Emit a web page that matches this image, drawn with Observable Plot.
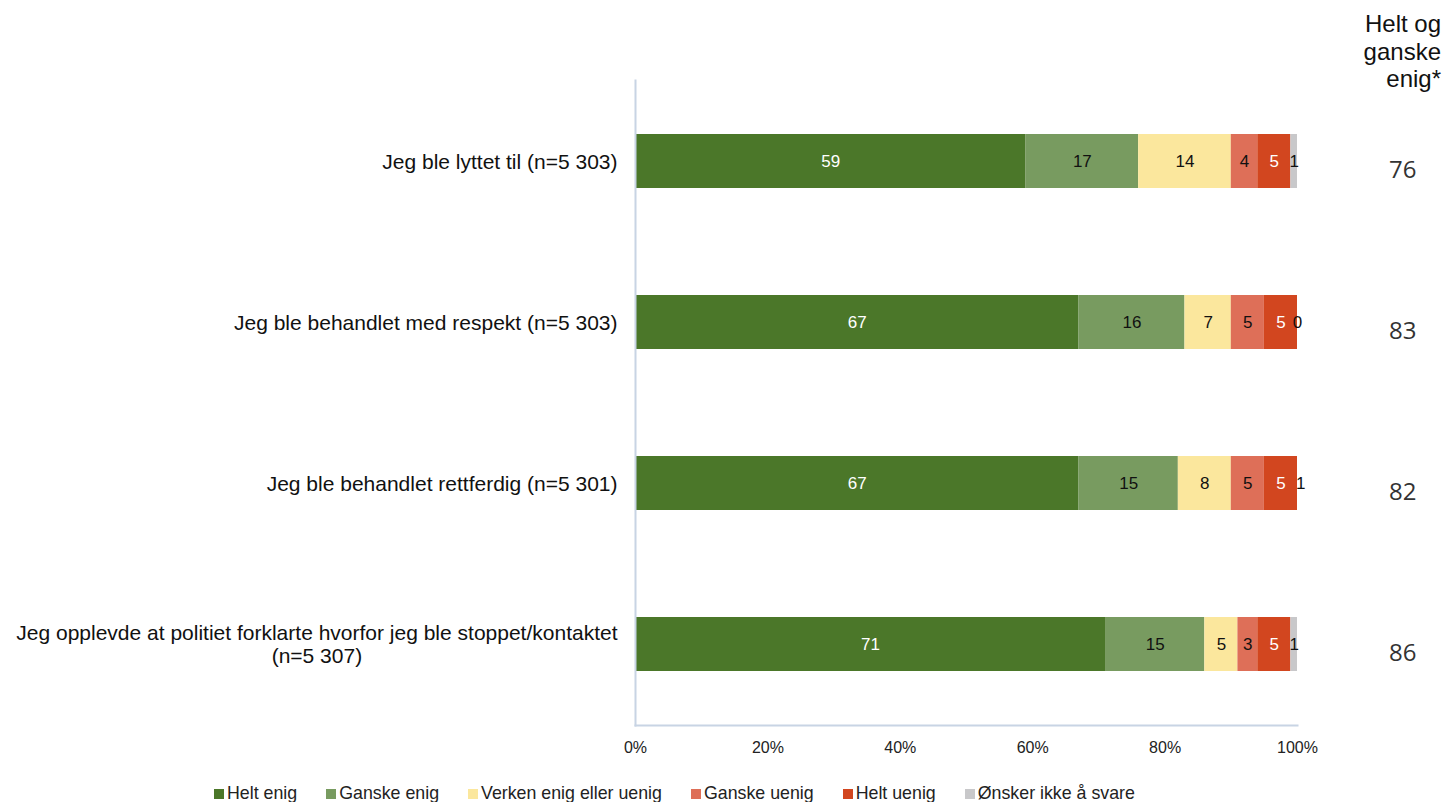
<!DOCTYPE html>
<html>
<head>
<meta charset="utf-8">
<script src="https://cdn.jsdelivr.net/npm/d3@7"></script>
<script src="https://cdn.jsdelivr.net/npm/@observablehq/plot@0.6"></script>
<style>
  html, body { margin: 0; padding: 0; background: #fff; }
  body { width: 1445px; height: 802px; position: relative; overflow: hidden; font-family: Arial, "Liberation Sans", sans-serif; }
  #chart { position: absolute; left: 0; top: 0; }
  #header { position: absolute; right: 4px; top: 10px; text-align: right; font-size: 24px; line-height: 27.5px; color: #111; }
  #legend { position: absolute; left: 214px; top: 783px; display: flex; font-size: 17.8px; color: #222; white-space: nowrap; }
  #legend .item { display: flex; align-items: center; margin-right: 29px; }
  #legend .sw { width: 10px; height: 10px; margin-right: 3px; display: inline-block; }
</style>
</head>
<body>
<div id="chart"></div>
<div id="header">Helt og<br>ganske<br>enig*</div>
<div id="legend"></div>
<script>
// ---- data ----
const categories = [
  "Jeg ble lyttet til (n=5 303)",
  "Jeg ble behandlet med respekt (n=5 303)",
  "Jeg ble behandlet rettferdig (n=5 301)",
  "Jeg opplevde at politiet forklarte hvorfor jeg ble stoppet/kontaktet\n(n=5 307)"
];
const series = ["Helt enig", "Ganske enig", "Verken enig eller uenig", "Ganske uenig", "Helt uenig", "Ønsker ikke å svare"];
const colors = ["#4b7729", "#789b60", "#fbe79d", "#de6f58", "#d2461f", "#c8c8ca"];
const labelColors = ["#ffffff", "#111111", "#111111", "#111111", "#ffffff", "#111111"];
const helEnig = [59, 67, 67, 71];
const ganskeEnig = [17, 16, 15, 15];
const verken = [14, 7, 8, 5];
const ganskeUenig = [4, 5, 5, 3];
const heltUenig = [5, 5, 5, 5];
const onskerIkke = [1, 0, 1, 1];
const totalEnig = [76, 83, 82, 86];
const xTicks = [0, 20, 40, 60, 80, 100];

const seriesValues = [helEnig, ganskeEnig, verken, ganskeUenig, heltUenig, onskerIkke];
const rows = [];
categories.forEach((c, i) => {
  seriesValues.forEach((vals, s) => {
    rows.push({category: c, series: series[s], value: vals[i], si: s});
  });
});
const totals = categories.map((c, i) => ({category: c, total: totalEnig[i]}));

const W = 1445, H = 775;
const mL = 635, mR = 148, mT = 80, mB = 50;
const axisColor = "#c8d4e4";

const plot = Plot.plot({
  width: W,
  height: H,
  marginLeft: mL,
  marginRight: mR,
  marginTop: mT,
  marginBottom: mB,
  style: {fontFamily: "Arial, 'Liberation Sans', sans-serif", background: "#fff", overflow: "visible"},
  x: {domain: [0, 100], axis: null},
  y: {domain: categories, paddingInner: 0.665, paddingOuter: 0.3325, axis: null},
  color: {domain: series, range: colors},
  marks: [
    Plot.barX(rows, Plot.stackX({x: "value", y: "category", fill: "series", order: series, clip: true})),
    Plot.text(rows, Plot.stackX({
      x: "value", y: "category", order: series, z: "series",
      text: d => String(d.value),
      fill: d => labelColors[d.si],
      fontSize: 17
    })),
    // axis lines
    Plot.frame({anchor: "left", stroke: axisColor, strokeWidth: 2}),
    Plot.frame({anchor: "bottom", stroke: axisColor, strokeWidth: 2}),
    // x tick labels
    Plot.text(xTicks, {x: d => d, text: d => d + "%", frameAnchor: "bottom", dy: 27, fontSize: 16, fill: "#222"}),
    // category labels
    Plot.text(categories, {y: d => d, text: d => d, frameAnchor: "left", dx: -18, textAnchor: "end", fontSize: 21, fill: "#111", lineHeight: 1.1, className: "catlab"}),
    // right column totals
    Plot.text(totals, {y: "category", text: d => String(d.total), frameAnchor: "right", dx: 119, dy: 9, fontSize: 24, fill: "#333", fontFamily: "'Open Sans', sans-serif"})
  ]
});

document.getElementById("chart").appendChild(plot);

// center the lines of multi-line category labels within their box (like the reference)
plot.querySelectorAll("g.catlab text").forEach(t => {
  const spans = t.querySelectorAll("tspan");
  if (spans.length > 1) {
    let maxW = 0;
    spans.forEach(s => { maxW = Math.max(maxW, s.getComputedTextLength()); });
    t.setAttribute("text-anchor", "middle");
    const baseX = parseFloat(spans[0].getAttribute("x") || "0");
    spans.forEach(s => s.setAttribute("x", baseX - maxW / 2));
  }
});

// legend
const lg = document.getElementById("legend");
series.forEach((s, i) => {
  const it = document.createElement("div");
  it.className = "item";
  const sw = document.createElement("span");
  sw.className = "sw";
  sw.style.background = colors[i];
  it.appendChild(sw);
  it.appendChild(document.createTextNode(s));
  lg.appendChild(it);
});
</script>
</body>
</html>
